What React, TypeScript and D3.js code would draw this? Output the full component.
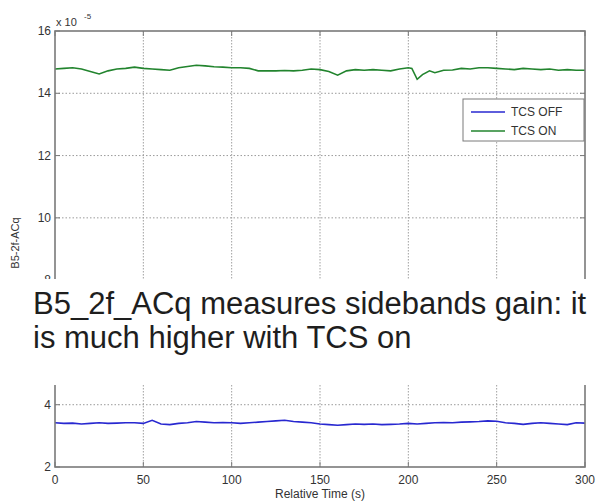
import React from 'react';
import * as d3 from 'd3';

// relative time (s)
const times = [0, 5, 10, 15, 20, 25, 30, 35, 40, 45, 50, 55, 60, 65, 70, 75, 80, 85, 90, 95,
  100, 105, 110, 115, 120, 125, 130, 135, 140, 145, 150, 155, 160, 165, 170, 175, 180, 185, 190, 195,
  200, 205, 210, 215, 220, 225, 230, 235, 240, 245, 250, 255, 260, 265, 270, 275, 280, 285, 290, 295, 300];

// B5_2f_ACq (x 1e-5), TCS OFF
const tcsOff = [3.42, 3.40, 3.41, 3.38, 3.40, 3.42, 3.40, 3.41, 3.42, 3.42, 3.40, 3.50, 3.38, 3.36, 3.40, 3.42, 3.46, 3.44, 3.42, 3.43,
  3.42, 3.40, 3.42, 3.44, 3.46, 3.48, 3.50, 3.46, 3.44, 3.42, 3.38, 3.36, 3.34, 3.36, 3.38, 3.37, 3.38, 3.36, 3.37, 3.38,
  3.40, 3.38, 3.40, 3.42, 3.43, 3.42, 3.44, 3.45, 3.46, 3.48, 3.47, 3.42, 3.40, 3.37, 3.40, 3.42, 3.40, 3.38, 3.36, 3.42, 3.41];

// TCS ON (own time base, a few extra points around the glitch near 205 s)
const timesOn = [0, 5, 10, 15, 20, 25, 30, 35, 40, 45, 50, 55, 60, 65, 70, 75, 80, 85, 90, 95,
  100, 105, 110, 115, 120, 125, 130, 135, 140, 145, 150, 155, 160, 165, 170, 175, 180, 185, 190, 195,
  200, 202, 205, 208, 212, 215, 220, 225, 230, 235, 240, 245, 250, 255, 260, 265, 270, 275, 280, 285, 290, 295, 300];
const tcsOn = [14.78, 14.80, 14.82, 14.78, 14.70, 14.62, 14.72, 14.78, 14.80, 14.84, 14.80, 14.78, 14.76, 14.74, 14.82, 14.86, 14.90, 14.88, 14.85, 14.84,
  14.82, 14.82, 14.80, 14.72, 14.72, 14.72, 14.73, 14.72, 14.74, 14.78, 14.76, 14.70, 14.58, 14.72, 14.76, 14.74, 14.76, 14.74, 14.72, 14.78,
  14.82, 14.80, 14.45, 14.60, 14.72, 14.66, 14.74, 14.75, 14.80, 14.78, 14.82, 14.82, 14.80, 14.78, 14.76, 14.80, 14.78, 14.76, 14.78, 14.74, 14.76, 14.74, 14.74];

const xTicks = [0, 50, 100, 150, 200, 250, 300];
const yTicks = [2, 4, 6, 8, 10, 12, 14, 16];
// tick labels that are not hidden by the note box
const yLabels = [2, 4, 8, 10, 12, 14, 16];
const legendItems = [
  { label: 'TCS OFF', color: '#2828d0' },
  { label: 'TCS ON', color: '#22842e' },
];
const noteLines = ['B5_2f_ACq measures sidebands gain: it', 'is much higher with TCS on'];

const W = 599;
const H = 503;
const left = 55, right = 585, top = 31, bottom = 467;
const font = 'Arial, "Liberation Sans", Helvetica, sans-serif';

export default function App() {
  const x = d3.scaleLinear().domain([0, 300]).range([left, right]);
  const y = d3.scaleLinear().domain([2, 16]).range([bottom, top]);

  const offLine = d3.line<number>().x((_, i) => x(times[i])).y(d => y(d))(tcsOff) || '';
  const onLine = d3.line<number>().x((_, i) => x(timesOn[i])).y(d => y(d))(tcsOn) || '';

  return (
    <svg width={W} height={H} style={{ position: 'absolute', left: 0, top: 0, background: '#fff' }} fontFamily={font}>
      {/* grid */}
      {xTicks.slice(1, -1).map(t => (
        <line key={'gx' + t} x1={x(t)} x2={x(t)} y1={top} y2={bottom} stroke="#a0a0a0" strokeDasharray="1.5,1.5" />
      ))}
      {yTicks.slice(1, -1).map(t => (
        <line key={'gy' + t} x1={left} x2={right} y1={y(t)} y2={y(t)} stroke="#9a9a9a" strokeDasharray="1.5,2" />
      ))}

      {/* data */}
      <path d={offLine} fill="none" stroke={legendItems[0].color} strokeWidth={1.6} />
      <path d={onLine} fill="none" stroke={legendItems[1].color} strokeWidth={1.6} />

      {/* frame and ticks */}
      <rect x={left} y={top} width={right - left} height={bottom - top} fill="none" stroke="#7a7a7a" strokeWidth={1.6} />
      {xTicks.map(t => (
        <g key={'tx' + t}>
          <line x1={x(t)} x2={x(t)} y1={bottom} y2={bottom - 5} stroke="#7a7a7a" />
          <line x1={x(t)} x2={x(t)} y1={top} y2={top + 5} stroke="#7a7a7a" />
          <text x={x(t)} y={484} textAnchor="middle" fontSize={12} fill="#333">{t}</text>
        </g>
      ))}
      {yTicks.map(t => (
        <g key={'ty' + t}>
          <line x1={left} x2={left + 5} y1={y(t)} y2={y(t)} stroke="#7a7a7a" />
          <line x1={right} x2={right - 5} y1={y(t)} y2={y(t)} stroke="#7a7a7a" />
        </g>
      ))}
      {yLabels.map(t => (
        <text key={'ly' + t} x={left - 4} y={y(t) + 4} textAnchor="end" fontSize={12} fill="#333">{t}</text>
      ))}

      {/* exponent */}
      <text x={56} y={26} fontSize={11} fill="#333">x 10</text>
      <text x={84} y={19} fontSize={8} fill="#333">-5</text>

      {/* axis labels */}
      <text x={x(150)} y={498} textAnchor="middle" fontSize={12} fill="#333">Relative Time (s)</text>
      <text transform={`translate(19,${(top + bottom) / 2 - 6}) rotate(-90)`} textAnchor="middle" fontSize={11} fill="#333">B5-2f-ACq</text>

      {/* legend */}
      <rect x={463} y={99} width={121} height={42} fill="#fff" stroke="#7a7a7a" />
      {legendItems.map((d, i) => (
        <g key={d.label}>
          <line x1={471} x2={505} y1={112 + i * 19} y2={112 + i * 19} stroke={d.color} strokeWidth={1.6} />
          <text x={511} y={116 + i * 19} fontSize={12} fill="#333">{d.label}</text>
        </g>
      ))}

      {/* note box over the middle of the axes */}
      <rect x={0} y={279} width={W} height={106} fill="#fff" />
      {noteLines.map((s, i) => (
        <text key={i} x={33} y={314 + i * 34} fontSize={31} fill="#1e1e1e">{s}</text>
      ))}
    </svg>
  );
}
